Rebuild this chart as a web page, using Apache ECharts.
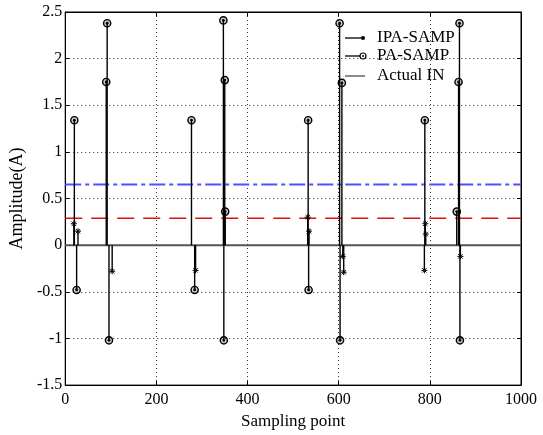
<!DOCTYPE html>
<html><head><meta charset="utf-8">
<script src="https://cdn.jsdelivr.net/npm/echarts@6/dist/echarts.min.js"></script>
<style>html,body{margin:0;padding:0;background:#fff}#c{width:543px;height:435px}</style>
</head><body><div id="c"></div>
<script>
// ---- data ----
const paX = [20, 25, 90, 92, 96, 277, 284, 347, 348, 350, 351, 533, 534, 602, 603, 607, 789, 859, 863, 865, 866];
const paY = [1.34, -0.48, 1.75, 2.38, -1.02, 1.34, -0.48, 2.41, -1.02, 1.77, 0.36, 1.34, -0.48, 2.38, -1.02, 1.74, 1.34, 0.36, 1.75, 2.38, -1.02];
const ipaX = [19, 28, 103, 286, 532, 535, 609, 611, 790, 791, 788, 867];
const ipaY = [0.23, 0.15, -0.28, -0.27, 0.30, 0.15, -0.12, -0.29, 0.23, 0.12, -0.27, -0.12];
const actualX = [0, 1000];
const actualY = [0, 0];
const blueLevel = 0.65;
const redLevel = 0.29;
const xTickValues = [0, 200, 400, 600, 800, 1000];
const yTickValues = [-1.5, -1, -0.5, 0, 0.5, 1, 1.5, 2, 2.5];

const FONT = 'Liberation Serif';
const chart = echarts.init(document.getElementById('c'));

function stemPA(params, api) {
  const x = api.value(0), y = api.value(1);
  const p0 = api.coord([x, 0]), p1 = api.coord([x, y]);
  return {type: 'group', children: [
    {type: 'line', shape: {x1: p0[0], y1: p0[1], x2: p1[0], y2: p1[1]}, style: {stroke: '#000', lineWidth: 1.4}},
    {type: 'circle', shape: {cx: p1[0], cy: p1[1], r: 3.6}, style: {fill: 'rgba(0,0,0,0.2)', stroke: '#000', lineWidth: 1.4}},
    {type: 'circle', shape: {cx: p1[0], cy: p1[1], r: 1.4}, style: {fill: '#000'}}
  ]};
}
function stemIPA(params, api) {
  const x = api.value(0), y = api.value(1);
  const p0 = api.coord([x, 0]), p1 = api.coord([x, y]);
  const s = 3, d = 2.2, cx = p1[0], cy = p1[1];
  const st = {stroke: '#000', lineWidth: 1};
  return {type: 'group', children: [
    {type: 'line', shape: {x1: p0[0], y1: p0[1], x2: cx, y2: cy}, style: {stroke: '#000', lineWidth: 1.4}},
    {type: 'line', shape: {x1: cx - s, y1: cy, x2: cx + s, y2: cy}, style: st},
    {type: 'line', shape: {x1: cx, y1: cy - s, x2: cx, y2: cy + s}, style: st},
    {type: 'line', shape: {x1: cx - d, y1: cy - d, x2: cx + d, y2: cy + d}, style: st},
    {type: 'line', shape: {x1: cx - d, y1: cy + d, x2: cx + d, y2: cy - d}, style: st}
  ]};
}

const axisLabel = {fontFamily: FONT, fontSize: 16, color: '#000', formatter: v => String(v)};
const gridLine = {show: true, lineStyle: {color: '#333', type: [1, 3], width: 1}};

const option = {
  animation: false,
  backgroundColor: '#fff',
  grid: {left: 62, right: 22, top: 12, bottom: 44, show: true, borderColor: '#000', borderWidth: 1, containLabel: false},
  xAxis: [{
    type: 'value', min: xTickValues[0], max: xTickValues[xTickValues.length - 1], interval: 200,
    name: 'Sampling point', nameLocation: 'middle', nameGap: 22,
    nameTextStyle: {fontFamily: FONT, fontSize: 17, color: '#000'},
    axisLine: {show: true, onZero: false, lineStyle: {color: '#000', width: 1}},
    axisTick: {show: true, inside: true, length: 4, lineStyle: {color: '#000'}},
    axisLabel: Object.assign({margin: 7}, axisLabel),
    splitLine: gridLine
  }, {
    type: 'value', position: 'top', min: xTickValues[0], max: xTickValues[xTickValues.length - 1], interval: 200,
    axisLine: {show: true, onZero: false, lineStyle: {color: '#000'}},
    axisTick: {show: true, inside: true, length: 4, lineStyle: {color: '#000'}},
    axisLabel: {show: false}, splitLine: {show: false}
  }],
  yAxis: [{
    type: 'value', min: yTickValues[0], max: yTickValues[yTickValues.length - 1], interval: 0.5,
    name: 'Amplitude(A)', nameLocation: 'middle', nameGap: 32,
    nameTextStyle: {fontFamily: FONT, fontSize: 18, color: '#000'},
    axisLine: {show: true, onZero: false, lineStyle: {color: '#000', width: 1}},
    axisTick: {show: true, inside: true, length: 4, lineStyle: {color: '#000'}},
    axisLabel: Object.assign({margin: 3}, axisLabel),
    splitLine: gridLine
  }, {
    type: 'value', position: 'right', min: yTickValues[0], max: yTickValues[yTickValues.length - 1], interval: 0.5,
    axisLine: {show: true, onZero: false, lineStyle: {color: '#000'}},
    axisTick: {show: true, inside: true, length: 4, lineStyle: {color: '#000'}},
    axisLabel: {show: false}, splitLine: {show: false}
  }],
  series: [
    {name: 'blue', type: 'line', symbol: 'none', silent: true, z: 2,
     data: [[xTickValues[0], blueLevel], [xTickValues[xTickValues.length - 1], blueLevel]],
     lineStyle: {color: '#4f4fff', width: 2, type: [16, 4, 4, 4]}},
    {name: 'red', type: 'line', symbol: 'none', silent: true, z: 2,
     data: [[xTickValues[0], redLevel], [xTickValues[xTickValues.length - 1], redLevel]],
     lineStyle: {color: '#e01010', width: 1.5, type: [17, 9]}},
    {name: 'Actual IN', type: 'line', symbol: 'none', z: 3,
     data: actualX.map((x, i) => [x, actualY[i]]),
     lineStyle: {color: '#555', width: 2}},
    {name: 'PA-SAMP', type: 'custom', renderItem: stemPA, z: 4,
     encode: {x: 0, y: 1}, data: paX.map((x, i) => [x, paY[i]])},
    {name: 'IPA-SAMP', type: 'custom', renderItem: stemIPA, z: 5,
     encode: {x: 0, y: 1}, data: ipaX.map((x, i) => [x, ipaY[i]])}
  ],
  graphic: [
    {type: 'line', shape: {x1: 345, y1: 38, x2: 363, y2: 38}, style: {stroke: '#000', lineWidth: 1.3}},
    {type: 'circle', shape: {cx: 363, cy: 38, r: 2}, style: {fill: '#000'}},
    {type: 'text', left: 377, top: 29, style: {text: 'IPA-SAMP', font: '17px "Liberation Serif"', fill: '#000'}},
    {type: 'line', shape: {x1: 345, y1: 56, x2: 360, y2: 56}, style: {stroke: '#000', lineWidth: 1.3}},
    {type: 'circle', shape: {cx: 363, cy: 56, r: 3}, style: {fill: 'none', stroke: '#000', lineWidth: 1.2}},
    {type: 'circle', shape: {cx: 363, cy: 56, r: 1}, style: {fill: '#000'}},
    {type: 'text', left: 377, top: 47, style: {text: 'PA-SAMP', font: '17px "Liberation Serif"', fill: '#000'}},
    {type: 'line', shape: {x1: 345, y1: 76, x2: 365, y2: 76}, style: {stroke: '#666', lineWidth: 1.5}},
    {type: 'text', left: 377, top: 67, style: {text: 'Actual IN', font: '17px "Liberation Serif"', fill: '#000'}}
  ]
};
chart.setOption(option);
</script>
</body></html>
